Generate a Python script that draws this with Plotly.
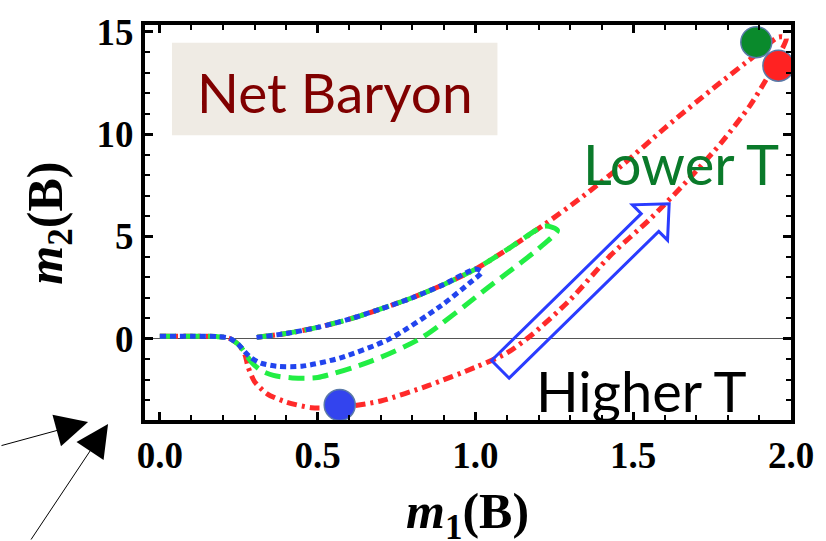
import math
import plotly.graph_objects as go

# ---- curve data: m1(B) vs m2(B) for three parameter sets ----
red_m1 = [0.00, 0.10, 0.18, 0.22, 0.25, 0.27, 0.28, 0.30, 0.34, 0.40, 0.48, 0.58, 0.70, 0.85, 1.00,
          1.10, 1.18, 1.30, 1.43, 1.55, 1.67, 1.78, 1.87, 1.93, 1.97, 1.985, 1.96, 1.89, 1.75, 1.60,
          1.47, 1.34, 1.22, 1.10, 1.00, 0.90, 0.80, 0.70, 0.60, 0.50, 0.40, 0.30]
red_m2 = [0.12, 0.12, 0.10, 0.02, -0.30, -0.80, -1.40, -2.10, -2.70, -3.10, -3.38, -3.35, -3.05, -2.30, -1.40,
          -0.70, 0.20, 1.90, 4.10, 5.80, 7.70, 9.60, 11.40, 12.90, 14.10, 14.70, 14.75, 13.90, 12.20, 10.30,
          8.55, 6.95, 5.60, 4.35, 3.40, 2.65, 2.00, 1.45, 0.95, 0.55, 0.25, 0.05]

green_m1 = [0.00, 0.10, 0.18, 0.22, 0.25, 0.27, 0.29, 0.32, 0.36, 0.42, 0.50, 0.67, 0.83, 1.04, 1.20,
            1.26, 1.22, 1.10, 1.00, 0.90, 0.80, 0.70, 0.60, 0.50, 0.40, 0.30]
green_m2 = [0.12, 0.12, 0.10, 0.02, -0.30, -0.70, -1.15, -1.55, -1.80, -1.92, -1.90, -1.10, 0.05, 2.50, 4.40,
            5.30, 5.50, 4.35, 3.40, 2.65, 2.00, 1.45, 0.95, 0.55, 0.25, 0.05]

blue_m1 = [0.00, 0.10, 0.18, 0.22, 0.25, 0.27, 0.29, 0.32, 0.37, 0.45, 0.57, 0.73, 0.89, 0.98, 1.02,
           1.00, 0.90, 0.80, 0.70, 0.60, 0.50, 0.40, 0.30]
blue_m2 = [0.12, 0.12, 0.10, 0.02, -0.30, -0.65, -0.95, -1.20, -1.35, -1.35, -0.95, 0.00, 1.60, 2.70, 3.25,
           3.40, 2.65, 2.00, 1.45, 0.95, 0.55, 0.25, 0.05]

# highlighted points (blue, green, red)
dot_m1 = [0.57, 1.89, 1.96]
dot_m2 = [-3.25, 14.50, 13.35]
dot_colors = ["#3344ee", "#0a8a2c", "#ff2222"]

x_ticks = [0.0, 0.5, 1.0, 1.5, 2.0]
x_ticktext = ["0.0", "0.5", "1.0", "1.5", "2.0"]
y_ticks = [0, 5, 10, 15]

# ---- layout geometry ----
W, H = 826, 541
ML, MR, MT, MB = 145, 34, 22, 121
PW, PH = W - ML - MR, H - MT - MB
X_RANGE = [-0.047, 2.0]
Y_RANGE = [-3.98, 15.34]
sx = PW / (X_RANGE[1] - X_RANGE[0])   # px per unit along x
sy = PH / (Y_RANGE[1] - Y_RANGE[0])   # px per unit along y


def px_to_paper(px, py):
    """Figure pixel position -> paper coordinates of the plot area."""
    return (px - ML) / PW, (H - MB - py) / PH


def block_arrow(tail, tip, body_half, head_half, head_len):
    """Outline of a hollow block arrow, returned as an SVG path in data units."""
    tx, ty = tail[0] * sx, -tail[1] * sy
    hx, hy = tip[0] * sx, -tip[1] * sy
    L = math.hypot(hx - tx, hy - ty)
    ux, uy = (hx - tx) / L, (hy - ty) / L
    nx, ny = -uy, ux
    bx, by = hx - ux * head_len, hy - uy * head_len
    pts = [
        (tx + nx * body_half, ty + ny * body_half),
        (bx + nx * body_half, by + ny * body_half),
        (bx + nx * head_half, by + ny * head_half),
        (hx, hy),
        (bx - nx * head_half, by - ny * head_half),
        (bx - nx * body_half, by - ny * body_half),
        (tx - nx * body_half, ty - ny * body_half),
    ]
    return "M " + " L ".join(f"{px / sx:.4f},{-py / sy:.4f}" for px, py in pts) + " Z"


fig = go.Figure()

curve_styles = [
    (red_m1, red_m2, "#ff2a2a", "10px,5px,3px,5px"),
    (green_m1, green_m2, "#22ee44", "16px,8px"),
    (blue_m1, blue_m2, "#2244ee", "6px,4px"),
]
for xs, ys, col, dash in curve_styles:
    fig.add_trace(go.Scatter(
        x=xs, y=ys, mode="lines",
        line=dict(color=col, width=5, dash=dash, shape="spline", smoothing=0.7),
        hoverinfo="skip", showlegend=False,
    ))

fig.add_trace(go.Scatter(
    x=dot_m1, y=dot_m2, mode="markers",
    marker=dict(size=31, color=dot_colors, line=dict(color="#5a7aa8", width=1.5)),
    cliponaxis=False, hoverinfo="skip", showlegend=False,
))

# hollow arrow pointing along the lower red branch
fig.add_shape(
    type="path", xref="x", yref="y",
    path=block_arrow((1.079, -1.50), (1.614, 6.60), 12.5, 25, 27),
    line=dict(color="#2a3cff", width=3), fillcolor="rgba(0,0,0,0)",
)

# label box
bx0, by0 = px_to_paper(172, 133)
bx1, by1 = px_to_paper(498, 40)
fig.add_shape(
    type="rect", xref="paper", yref="paper", x0=bx0, x1=bx1, y0=by0, y1=by1,
    fillcolor="#efebe4", line=dict(width=0), layer="below",
)

nb_x, nb_y = px_to_paper(335, 90)
yt_x, yt_y = px_to_paper(49, 222)
xt_x, xt_y = px_to_paper(468, 516)
a1_x, a1_y = px_to_paper(88, 422)
a2_x, a2_y = px_to_paper(108, 424)

center = dict(xanchor="center", yanchor="middle", showarrow=False)
annotations = [
    dict(text="Net Baryon", xref="paper", yref="paper", x=nb_x, y=nb_y,
         font=dict(family="Lato", size=55, color="#800000"), **center),
    dict(text="Lower T", xref="x", yref="y", x=1.65, y=8.55,
         font=dict(family="Lato", size=56, color="#0a7a2a"), **center),
    dict(text="Higher T", xref="x", yref="y", x=1.525, y=-2.55,
         font=dict(family="Lato", size=56, color="#000000"), **center),
    # axis titles
    dict(text="<b><i>m</i><sub>2</sub>(B)</b>", xref="paper", yref="paper",
         x=yt_x, y=yt_y, textangle=-90,
         font=dict(family="Liberation Serif", size=50, color="#000000"), **center),
    dict(text="<b><i>m</i><sub>1</sub>(B)</b>", xref="paper", yref="paper",
         x=xt_x, y=xt_y,
         font=dict(family="Liberation Serif", size=50, color="#000000"), **center),
    # pointer arrows below the frame
    dict(text="", xref="paper", yref="paper", x=a1_x, y=a1_y, ax=-90, ay=24,
         showarrow=True, arrowhead=2, arrowsize=6.5, arrowwidth=1, arrowcolor="#000000"),
    dict(text="", xref="paper", yref="paper", x=a2_x, y=a2_y, ax=-78, ay=120,
         showarrow=True, arrowhead=2, arrowsize=6.5, arrowwidth=1, arrowcolor="#000000"),
]

axis_common = dict(
    showline=True, linecolor="#000000", linewidth=4, mirror="allticks",
    ticks="inside", ticklen=8, tickwidth=2.5, tickcolor="#000000",
    showgrid=False,
    tickfont=dict(family="Liberation Serif", size=37, color="#000000", weight="bold"),
)

fig.update_layout(
    width=W, height=H,
    margin=dict(l=ML, r=MR, t=MT, b=MB),
    paper_bgcolor="#ffffff", plot_bgcolor="#ffffff",
    xaxis=dict(range=X_RANGE, tickvals=x_ticks, ticktext=x_ticktext, zeroline=False,
               minor=dict(ticks="inside", ticklen=5, tickwidth=2, dtick=0.1, tickcolor="#000000"),
               **axis_common),
    yaxis=dict(range=Y_RANGE, tickvals=y_ticks, zeroline=True, zerolinecolor="#555555",
               zerolinewidth=1,
               minor=dict(ticks="inside", ticklen=5, tickwidth=2, dtick=1, tickcolor="#000000"),
               **axis_common),
    annotations=annotations,
    showlegend=False,
)

fig.write_html("out.html")
